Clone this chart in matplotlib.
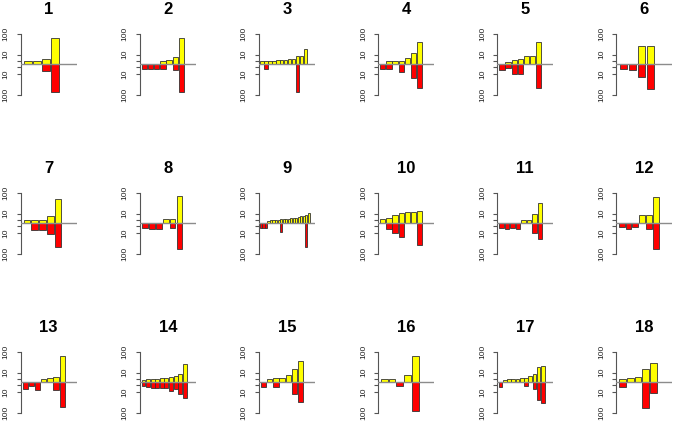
import numpy as np
import matplotlib
matplotlib.use("Agg")
import matplotlib.pyplot as plt

plt.rcParams['font.family'] = ['Liberation Sans', 'DejaVu Sans']

# values per panel: "up" bars (yellow) and "down" bars (red), 0 = no bar
up_01 = [1.2, 1.2, 3.5, 73]
down_01 = [0, 0, 4.3, 84]
up_02 = [0, 0, 0, 1, 2, 6.3, 73]
down_02 = [2.3, 2.3, 2.3, 2.3, 0, 3.5, 80]
up_03 = [1, 1, 1, 1.3, 1.6, 1.8, 2.2, 2.6, 3.2, 7.5, 7.5, 24]
down_03 = [0, 2.3, 0, 0, 0, 0, 0, 0, 0, 84, 0, 0]
up_04 = [0, 1.2, 1.2, 1.3, 4.8, 14.6, 55]
down_04 = [2.7, 2.3, 0, 5.8, 0, 19, 58]
up_05 = [0, 0.8, 2, 2.7, 7.5, 7.5, 55]
down_05 = [3, 1.7, 10.8, 9.4, 0, 0, 58]
up_06 = [0, 0, 36, 36]
down_06 = [2, 3.5, 16, 64]
up_07 = [1.2, 1.2, 1.2, 6.3, 62]
down_07 = [0, 4.3, 4.3, 13, 58]
up_08 = [0, 0, 0, 2, 2, 78]
down_08 = [2, 3, 3, 0, 2, 73]
up_09 = [0, 0, 0, 0.8, 1, 1, 1.2, 1.4, 1.6, 1.8, 2, 2.3, 2.6, 3, 3.5, 4.2, 5, 6, 8, 10.8]
down_09 = [2.7, 2.7, 2.7, 0, 0, 0, 0, 0, 8.7, 0, 0, 0, 0, 0, 0, 0, 0, 0, 62, 0]
up_10 = [1.7, 3, 8, 12, 13.8, 14.6, 16.4]
down_10 = [0, 3.5, 10.8, 20, 0, 0, 49]
up_11 = [0, 0, 0, 0, 1.5, 1.5, 10, 45]
down_11 = [2, 3, 2, 4, 0, 0, 10, 25]
up_12 = [0, 0, 0, 8, 8, 75]
down_12 = [1.5, 3, 1.5, 0, 3, 70]
up_13 = [0, 0, 0, 1.2, 1.7, 3, 76]
down_13 = [4.8, 1.2, 6.3, 0, 0, 5.8, 67]
up_14 = [0.5, 1, 1.5, 1.5, 2, 2, 3, 4, 8, 35]
down_14 = [1.5, 2, 3, 3, 4, 3, 8, 5, 15, 25]
up_15 = [0, 1, 2, 2, 5, 20, 50]
down_15 = [2, 0, 2, 0, 0, 15, 40]
up_16 = [1, 1, 0, 5, 75]
down_16 = [0, 0, 1.5, 0, 90]
up_17 = [0, 0.6, 1.2, 1.2, 1.2, 1.7, 2.3, 3.9, 7.5, 26, 30]
down_17 = [2, 0, 0, 0, 0, 0, 1.5, 0, 4.8, 34, 47]
up_18 = [1.5, 2, 3, 20, 40]
down_18 = [2, 0, 0, 70, 12]

titles = [str(i) for i in range(1, 19)]
panels = [(up_01, down_01), (up_02, down_02), (up_03, down_03), (up_04, down_04),
          (up_05, down_05), (up_06, down_06), (up_07, down_07), (up_08, down_08),
          (up_09, down_09), (up_10, down_10), (up_11, down_11), (up_12, down_12),
          (up_13, down_13), (up_14, down_14), (up_15, down_15), (up_16, down_16),
          (up_17, down_17), (up_18, down_18)]

tick_vals = [-100, -10, -1, 1, 10, 100]
tick_text = ['100', '10', '', '', '10', '100']

W, H = 675, 421
fig = plt.figure(figsize=(W / 100, H / 100), dpi=100)

unit = 3.05  # pixels per sqrt unit
for k, (up, down) in enumerate(panels):
    r, c = divmod(k, 6)
    x0 = 20.7 + 119.1 * c
    base = 64.3 + 159 * r
    ax = fig.add_axes([x0 / W, (H - base - 11 * unit) / H, 56 / W, 22 * unit / H])
    n = len(up)
    x = np.arange(n)
    up = np.array(up, dtype=float)
    down = np.array(down, dtype=float)
    m = up > 0
    ax.bar(x[m], np.sqrt(up[m]), width=0.85, color='#ffff00',
           edgecolor='#333333', linewidth=0.6, zorder=2)
    m = down > 0
    ax.bar(x[m], -np.sqrt(down[m]), width=0.85, color='#ff0000',
           edgecolor='#333333', linewidth=0.6, zorder=2)
    ax.axhline(0, color='#8c8c8c', linewidth=1.0, zorder=3)
    ax.set_xlim(-0.8, n + 1.4)
    ax.set_ylim(-11, 11)
    for s in ['top', 'right', 'bottom']:
        ax.spines[s].set_visible(False)
    ax.spines['left'].set_bounds(-10, 10)
    ax.spines['left'].set_color('#555555')
    ax.spines['left'].set_linewidth(0.8)
    ax.set_xticks([])
    ax.set_yticks(np.sign(tick_vals) * np.sqrt(np.abs(tick_vals)))
    ax.set_yticklabels(tick_text, rotation=90, va='center', fontsize=6)
    ax.tick_params(axis='y', length=3, width=0.8, color='#555555', pad=5,
                   labelcolor='#222222')
    ax.patch.set_visible(False)
    fig.text((x0 + 28) / W, (H - (base - 55)) / H, titles[k], ha='center',
             va='center', fontsize=12, fontweight='bold')

fig.savefig('out.png', dpi=100)
